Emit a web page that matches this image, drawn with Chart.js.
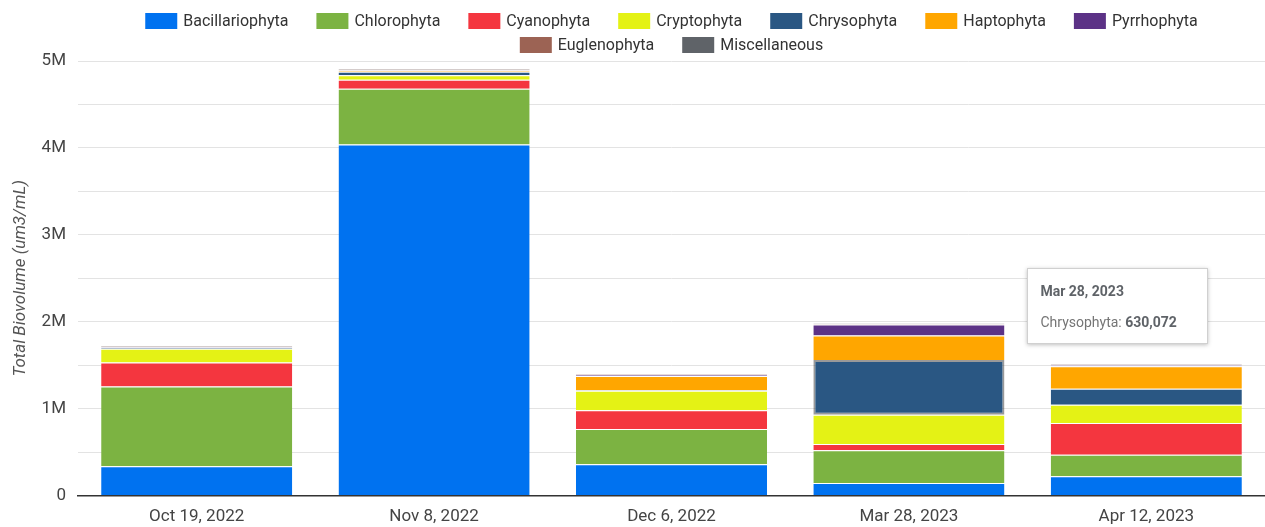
<!DOCTYPE html>
<html>
<head>
<meta charset="utf-8">
<script src="https://cdn.jsdelivr.net/npm/chart.js@4.4.1/dist/chart.umd.min.js"></script>
<style>
  html, body { margin: 0; padding: 0; background: #fff; }
  #wrap { position: relative; width: 1265px; height: 527px; }
  #tip {
    position: absolute; display: none; background: #fff; border: 1px solid #d0d0d0;
    box-shadow: 0 1px 4px rgba(0,0,0,0.25); font-family: Roboto, sans-serif; font-size: 14px;
    color: #757575; padding: 14px 30px 12px 12px; box-sizing: border-box; white-space: nowrap;
    line-height: 17px;
  }
  #tip .t { font-weight: bold; color: #5f6368; margin-bottom: 14px; }
  #tip b { color: #5f6368; }
</style>
</head>
<body>
<div id="wrap"><canvas id="c" width="1265" height="527"></canvas><div id="tip"></div></div>
<script>
const categories = ['Oct 19, 2022', 'Nov 8, 2022', 'Dec 6, 2022', 'Mar 28, 2023', 'Apr 12, 2023'];
const seriesNames = ['Bacillariophyta', 'Chlorophyta', 'Cyanophyta', 'Cryptophyta', 'Chrysophyta', 'Haptophyta', 'Pyrrhophyta', 'Euglenophyta', 'Miscellaneous'];
const bacillariophyta = [337000, 4038000, 360000, 146000, 222000];
const chlorophyta     = [919000, 644000, 406000, 375000, 249000];
const cyanophyta      = [276000, 103000, 215000, 73000, 364000];
const cryptophyta     = [158000, 50000, 226000, 337000, 211000];
const chrysophyta     = [10000, 40000, 5000, 630072, 184000];
const haptophyta      = [3000, 15000, 165000, 282000, 257000];
const pyrrhophyta     = [8000, 5000, 10000, 126000, 15000];
const euglenophyta    = [5000, 8000, 8000, 4000, 5000];
const miscellaneous   = [8000, 12000, 10000, 6000, 7000];
const yTickValues = [0, 1000000, 2000000, 3000000, 4000000, 5000000];
const yTickLabels = ['0', '1M', '2M', '3M', '4M', '5M'];
const colors = ['#0072f0', '#7cb342', '#f4363f', '#e4f215', '#2a5783', '#ffa600', '#5c3286', '#9c6354', '#5f6368'];
const allSeries = [bacillariophyta, chlorophyta, cyanophyta, cryptophyta, chrysophyta, haptophyta, pyrrhophyta, euglenophyta, miscellaneous];

const datasets = seriesNames.map((name, i) => ({
  label: name,
  data: allSeries[i],
  backgroundColor: colors[i],
  hoverBackgroundColor: colors[i],
  borderColor: 'rgba(255,255,255,0.85)',
  borderWidth: {top: 1, left: 0, right: 0, bottom: 0},
  borderSkipped: false,
  hoverBorderColor: 'rgba(70,70,70,0.55)',
  hoverBorderWidth: 2,
  barPercentage: 0.805,
  categoryPercentage: 1.0
}));

const FONT = 'Roboto, sans-serif';

const customLegend = {
  id: 'customLegend',
  afterDraw(chart) {
    const ctx = chart.ctx;
    const area = chart.chartArea;
    const center = (area.left + area.right) / 2;
    ctx.save();
    ctx.font = '16px ' + FONT;
    ctx.textBaseline = 'middle';
    ctx.textAlign = 'left';
    const boxW = 32, boxH = 16, gapText = 6, gapItem = 28;
    const rows = [[0,1,2,3,4,5,6],[7,8]];
    const rowY = [21, 45];
    rows.forEach((row, r) => {
      const widths = row.map(i => boxW + gapText + ctx.measureText(seriesNames[i]).width);
      const total = widths.reduce((a, b) => a + b, 0) + gapItem * (row.length - 1);
      let x = center - total / 2;
      row.forEach((i, k) => {
        ctx.fillStyle = colors[i];
        ctx.fillRect(x, rowY[r] - boxH / 2, boxW, boxH);
        ctx.fillStyle = '#333';
        ctx.fillText(seriesNames[i], x + boxW + gapText, rowY[r] + 1);
        x += widths[k] + gapItem;
      });
    });
    ctx.restore();
  }
};

const tipEl = document.getElementById('tip');
function externalTooltip(context) {
  const {chart, tooltip} = context;
  if (tooltip.opacity === 0 || !tooltip.dataPoints || !tooltip.dataPoints.length) {
    tipEl.style.display = 'none';
    return;
  }
  const dp = tooltip.dataPoints[0];
  const el = dp.element;
  const val = dp.raw.toLocaleString('en-US');
  tipEl.innerHTML = '<div class="t">' + dp.label + '</div><div>' + dp.dataset.label + ': <b>' + val + '</b></div>';
  tipEl.style.display = 'block';
  tipEl.style.left = (el.x + el.width / 2 + 23) + 'px';
  tipEl.style.top = (el.y - 92) + 'px';
}

const chart = new Chart(document.getElementById('c'), {
  type: 'bar',
  data: { labels: categories, datasets },
  plugins: [customLegend],
  options: {
    responsive: false,
    animation: false,
    events: [],
    layout: { padding: { top: 61, left: 0, right: 0, bottom: -11 } },
    plugins: {
      legend: { display: false },
      tooltip: { enabled: false, external: externalTooltip, mode: 'nearest', intersect: true }
    },
    scales: {
      x: {
        stacked: true,
        grid: { display: false, drawTicks: false },
        border: { display: true, color: '#333', width: 1.5 },
        ticks: { color: '#444', font: { family: FONT, size: 17 }, padding: 11 }
      },
      y: {
        stacked: true,
        min: 0, max: 5000000,
        afterFit(scale) { scale.width = 78; },
        afterBuildTicks(scale) {
          const t = [];
          for (let v = 0; v <= 5000000; v += 500000) t.push({ value: v });
          scale.ticks = t;
        },
        grid: { color: '#e3e3e3', lineWidth: 1, drawTicks: false },
        border: { display: false },
        ticks: {
          color: '#444', font: { family: FONT, size: 17 }, padding: 12,
          callback(v) { const k = yTickValues.indexOf(v); return k >= 0 ? yTickLabels[k] : ''; }
        },
        title: {
          display: true, text: 'Total Biovolume (um3/mL)', color: '#555',
          font: { family: FONT, size: 17, style: 'italic' }, padding: { top: 11, bottom: 0 }
        }
      }
    }
  }
});

const active = [{ datasetIndex: 4, index: 3 }];
chart.setActiveElements(active);
const el = chart.getDatasetMeta(4).data[3];
chart.tooltip.setActiveElements(active, { x: el.x, y: el.y });
chart.update();
</script>
</body>
</html>
